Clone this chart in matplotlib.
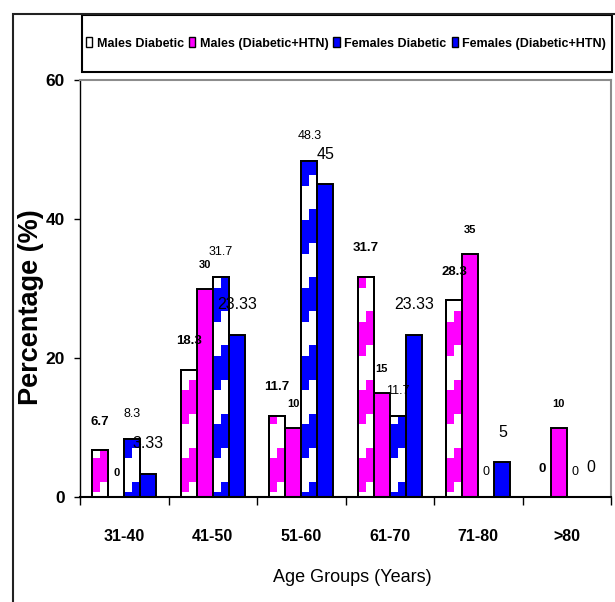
import numpy as np
import matplotlib.pyplot as plt
from matplotlib.patches import Patch, Rectangle

# age groups and percentages for each series
groups = ['31-40', '41-50', '51-60', '61-70', '71-80', '>80']
series = ['Males Diabetic', 'Males (Diabetic+HTN)', 'Females Diabetic', 'Females (Diabetic+HTN)']
males_dm = [6.7, 18.3, 11.7, 31.7, 28.3, 0]
males_htn = [0, 30, 10, 15, 35, 10]
females_dm = [8.3, 31.7, 48.3, 11.7, 0, 0]
females_htn = [3.33, 23.33, 45, 23.33, 5, 0]
label_text = [['6.7', '18.3', '11.7', '31.7', '28.3', '0'],
              ['0', '30', '10', '15', '35', '10'],
              ['8.3', '31.7', '48.3', '11.7', '0', '0'],
              ['3.33', '23.33', '45', '23.33', '5', '0']]

plt.rcParams['font.family'] = ['Liberation Sans', 'DejaVu Sans']
MAG = '#ff00ff'
BLUE = '#0000ff'

fig = plt.figure(figsize=(6.15, 6.02), dpi=100)
ax = fig.add_axes([80/615, 105/602, 531/615, 417/602])

values = [males_dm, males_htn, females_dm, females_htn]
fills = ['white', MAG, 'white', BLUE]
pattern = [MAG, None, BLUE, None]
phase = [0.7, None, 5.6, None]
# label style per series: weight, size, lift above bar (points)
lab_style = [('bold', 9.5, 20.5), ('bold', 8, 17), ('normal', 9, 18), ('normal', 11.5, 21.5)]

w = 0.182
x = np.arange(len(groups)) + 0.5


def blocks(xc, top, color, ph):
    # coarse stepped fill pattern inside a bar
    period, band, step = 9.8, 4.9, 1.5
    for half, shift in ((0, 0.0), (1, step)):
        x0 = xc - w/2 + half*w/2
        start = ph + shift - period
        while start < top:
            lo, hi = max(start, 0), min(start + band, top)
            if hi > lo:
                ax.bar(x0, hi - lo, width=w/2, bottom=lo, align='edge',
                       color=color, linewidth=0, zorder=2)
            start += period


for i, vals in enumerate(values):
    xs = x + (i - 1.5)*w
    ax.bar(xs, vals, width=w, color=fills[i], edgecolor='black', linewidth=1.4, zorder=1)
    if pattern[i]:
        for xc, v in zip(xs, vals):
            blocks(xc, v, pattern[i], phase[i])
        ax.bar(xs, vals, width=w, fill=False, edgecolor='black', linewidth=1.4, zorder=3)
    wt, fs, lift = lab_style[i]
    for xc, v, t in zip(xs, vals, label_text[i]):
        ax.annotate(t, (xc, v), xytext=(0, lift), textcoords='offset points',
                    ha='center', va='center', fontsize=fs, fontweight=wt, zorder=5)

ax.set_xlim(0, 6)
ax.set_ylim(0, 60)
ax.set_yticks([0, 20, 40, 60])
ax.set_yticklabels(['0', '20', '40', '60'], fontsize=12.5, fontweight='bold')
ax.tick_params(axis='y', length=4, width=1, pad=7)
ax.set_xticks(range(7))
ax.set_xticklabels([])
ax.tick_params(axis='x', which='major', length=6, width=1)
ax.set_xticks(x, minor=True)
ax.set_xticklabels(groups, minor=True, fontsize=11.5, fontweight='bold')
ax.tick_params(axis='x', which='minor', length=0, pad=23)

for s in ['top', 'right']:
    ax.spines[s].set_color('#8c8c8c')
    ax.spines[s].set_linewidth(1.5)
ax.spines['bottom'].set_linewidth(1.5)
ax.spines['left'].set_linewidth(1.0)

ax.set_xlabel('Age Groups (Years)', fontsize=13)
ax.xaxis.set_label_coords(0.512, -0.194)
ax.xaxis.label.set_va('center')
ax.set_ylabel('Percentage (%)', fontsize=19.5, fontweight='bold')
ax.yaxis.set_label_coords(-0.093, 0.455)
ax.yaxis.label.set_va('center')

# legend box and outer frame
fig.add_artist(Rectangle((82/615, (602-72)/602), 530/615, 57/602, transform=fig.transFigure,
                         fill=False, edgecolor='black', linewidth=1.5))
fig.add_artist(Rectangle((13/615, -0.1), 1.2, (602-14)/602 + 0.1, transform=fig.transFigure,
                         fill=False, edgecolor='#222222', linewidth=1.5))
handles = [Patch(facecolor=fills[0], edgecolor='black'),
           Patch(facecolor=MAG, edgecolor='black'),
           Patch(facecolor=BLUE, edgecolor='black'),
           Patch(facecolor=BLUE, edgecolor='black')]
fig.legend(handles, series, loc='center', ncol=4, mode='expand', frameon=False,
           bbox_to_anchor=(86/615, (602-72)/602, 520/615, 57/602),
           prop={'weight': 'bold', 'size': 9},
           handlelength=0.5, handleheight=0.8, handletextpad=0.35,
           borderaxespad=0, borderpad=0)

fig.savefig('out.png', dpi=100)
